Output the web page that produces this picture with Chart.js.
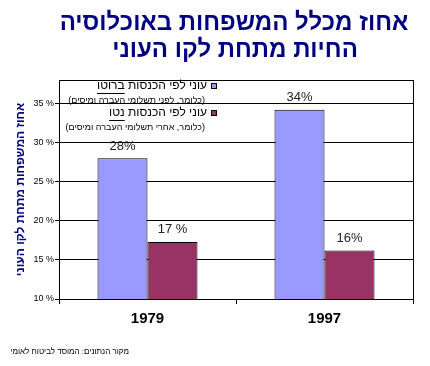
<!DOCTYPE html>
<html>
<head>
<meta charset="utf-8">
<script src="https://cdn.jsdelivr.net/npm/chart.js@4"></script>
<style>
  html, body { margin: 0; padding: 0; background: #fff; }
  canvas { display: block; }
</style>
</head>
<body>
<canvas id="chart" width="430" height="366"></canvas>
<script>
const categories = ["1979", "1997"];
const grossValues = [28, 34.2];
const netValues = [17.3, 16.2];
const grossLabels = ["28%", "34%"];
const netLabels = ["17 %", "16%"];
const yTicks = [10, 15, 20, 25, 30, 35];
const titleLines = ["אחוז מכלל המשפחות באוכלוסיה", "החיות מתחת לקו העוני"];
const legendItems = [
  { main: "עוני לפי הכנסות ברוטו", under: "ברוטו", note: "(כלומר, לפני תשלומי העברה ומיסים)", color: "#9999FF" },
  { main: "עוני לפי הכנסות נטו", under: "נטו", note: "(כלומר, אחרי תשלומי העברה ומיסים)", color: "#993366" }
];
const yTitle = "אחוז המשפחות מתחת לקו העוני";
const source = "מקור הנתונים: המוסד לביטוח לאומי";

const FONT = "Arial, 'Liberation Sans', sans-serif";

// title, legend, value labels, footnote
const extras = {
  id: "extras",
  afterDraw(chart) {
    const ctx = chart.ctx;
    const area = chart.chartArea;
    ctx.save();

    // right border of plot
    ctx.strokeStyle = "#000";
    ctx.lineWidth = 1;
    ctx.beginPath();
    ctx.moveTo(area.right + 0.5, area.top);
    ctx.lineTo(area.right + 0.5, area.bottom);
    ctx.stroke();

    // title
    ctx.fillStyle = "#000080";
    ctx.font = "bold 24px " + FONT;
    ctx.textAlign = "center";
    ctx.textBaseline = "middle";
    ctx.direction = "rtl";
    ctx.fillText(titleLines[0], 234, 23);
    ctx.fillText(titleLines[1], 235, 50);

    // value labels
    ctx.fillStyle = "#222";
    ctx.font = "13px " + FONT;
    ctx.direction = "ltr";
    [grossLabels, netLabels].forEach((labels, di) => {
      chart.getDatasetMeta(di).data.forEach((bar, i) => {
        ctx.fillText(labels[i], bar.x, bar.y - 12);
      });
    });

    // legend
    ctx.direction = "rtl";
    ctx.textAlign = "right";
    legendItems.forEach((it, i) => {
      const y0 = 86 + i * 27;
      ctx.fillStyle = it.color;
      ctx.fillRect(211, y0 - 3, 6, 6);
      ctx.strokeStyle = "#000";
      ctx.strokeRect(211.5, y0 - 2.5, 5, 5);

      ctx.fillStyle = "#000";
      ctx.font = "12px " + FONT;
      ctx.fillText(it.main, 207, y0);
      const wFull = ctx.measureText(it.main).width;
      const wWord = ctx.measureText(it.under).width;
      const left = 207 - wFull;
      ctx.beginPath();
      ctx.moveTo(left, y0 + 7.5);
      ctx.lineTo(left + wWord, y0 + 7.5);
      ctx.stroke();

      ctx.font = "9px " + FONT;
      ctx.fillText(it.note, 205, y0 + 15);
    });

    // source
    ctx.font = "8px " + FONT;
    ctx.fillText(source, 129, 352);
    ctx.restore();
  }
};

new Chart(document.getElementById("chart"), {
  type: "bar",
  data: {
    labels: categories,
    datasets: [
      {
        label: legendItems[0].main,
        data: grossValues,
        backgroundColor: "#9999FF",
        borderColor: "#000",
        borderWidth: 1
      },
      {
        label: legendItems[1].main,
        data: netValues,
        backgroundColor: "#993366",
        borderColor: "#000",
        borderWidth: 1
      }
    ]
  },
  options: {
    responsive: false,
    animation: false,
    devicePixelRatio: 1,
    categoryPercentage: 0.565,
    barPercentage: 1,
    layout: { padding: { top: 80, right: 17, bottom: 27, left: 0 } },
    plugins: {
      legend: { display: false },
      title: { display: false },
      tooltip: { enabled: false }
    },
    scales: {
      x: {
        grid: { drawOnChartArea: false, color: "#000", tickLength: 5, offset: true },
        border: { color: "#000", width: 1 },
        ticks: { color: "#000", padding: 6, font: { family: FONT, size: 15, weight: "bold" } },
        afterFit(scale) { scale.height = 40; }
      },
      y: {
        min: 10,
        max: 38,
        ticks: {
          stepSize: 5,
          color: "#000",
          padding: 1,
          font: { family: FONT, size: 9 },
          callback: v => (yTicks.includes(v) ? v + " %" : "")
        },
        grid: {
          color: "#000",
          tickLength: 4,
          tickColor: c => (c.tick && yTicks.includes(c.tick.value) ? "#000" : "rgba(0,0,0,0)")
        },
        border: { color: "#000", width: 1 },
        title: {
          display: true,
          text: yTitle,
          color: "#000080",
          padding: { top: 13, bottom: 0 },
          font: { family: FONT, size: 12, weight: "bold" }
        },
        afterFit(scale) { scale.width = 59; }
      }
    }
  },
  plugins: [extras]
});
</script>
</body>
</html>
